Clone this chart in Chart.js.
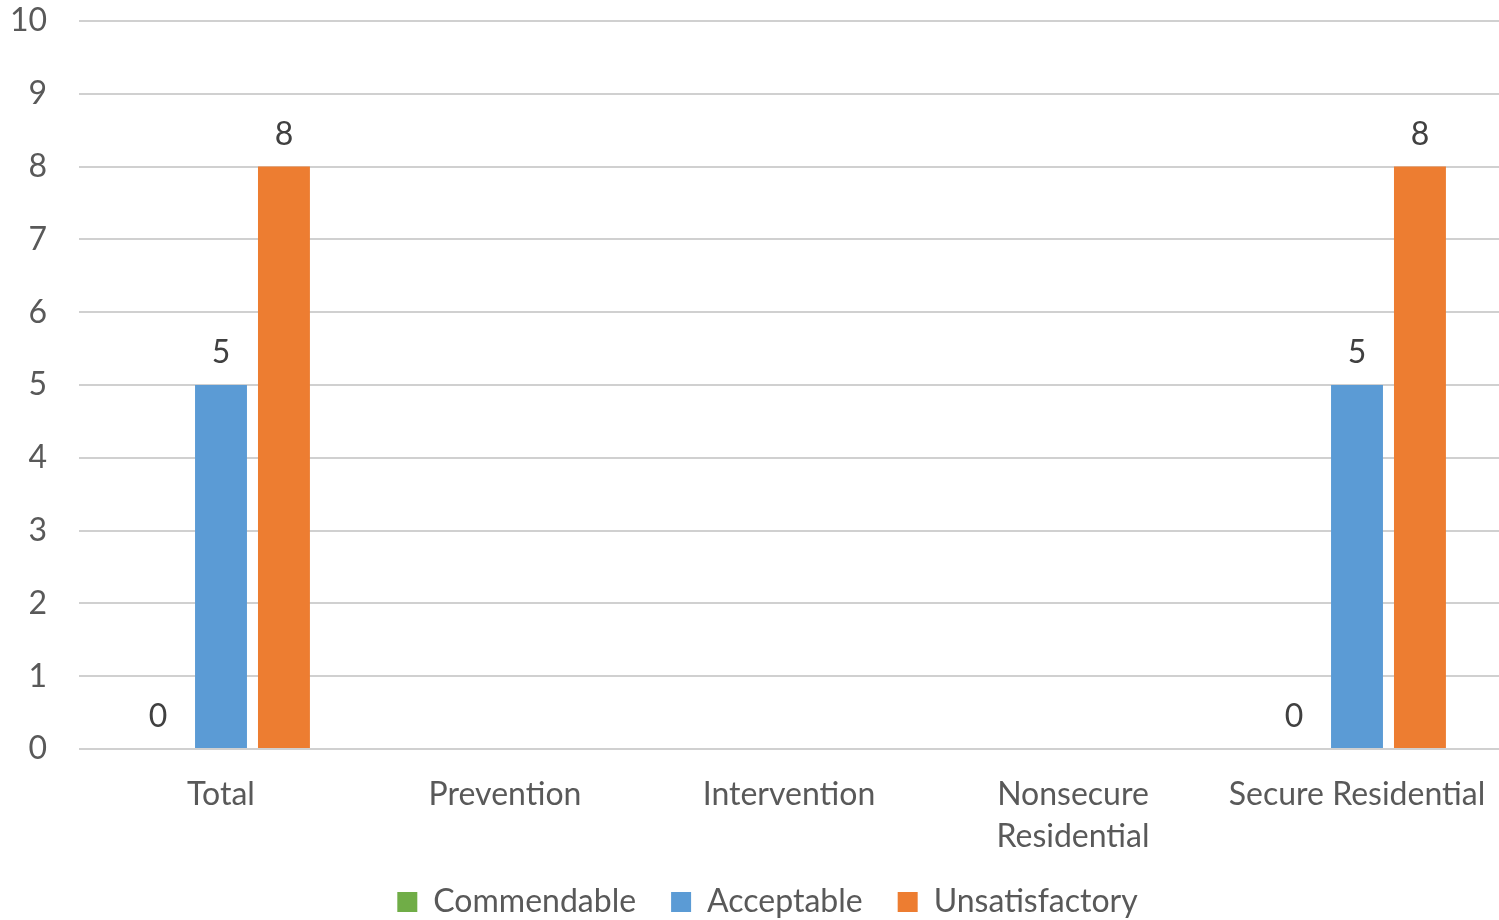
<!DOCTYPE html>
<html>
<head>
<meta charset="utf-8">
<title>Ratings by program type</title>
<script src="https://cdn.jsdelivr.net/npm/chart.js@4.4.1/dist/chart.umd.min.js"></script>
<style>
  html, body { margin: 0; padding: 0; background: #fff; overflow: hidden; }
  #wrap { width: 1499px; height: 920px; overflow: hidden; }
  #chart { display: block; }
</style>
</head>
<body>
<div id="wrap"><canvas id="chart" width="1499" height="928"></canvas></div>
<script>
/* ---- data ---- */
var categories     = ['Total', 'Prevention', 'Intervention', ['Nonsecure', 'Residential'], 'Secure Residential'];
var commendable    = [0, null, null, null, 0];
var acceptable     = [5, null, null, null, 5];
var unsatisfactory = [8, null, null, null, 8];
var yTicks         = [0, 1, 2, 3, 4, 5, 6, 7, 8, 9, 10];

var FONT = 'Lato, "Open Sans", sans-serif';
var TEXT = '#595959';

/* value labels above each bar */
var barLabels = {
  id: 'barLabels',
  afterDatasetsDraw: function(chart) {
    var ctx = chart.ctx;
    ctx.save();
    ctx.font = '32px ' + FONT;
    ctx.fillStyle = '#404040';
    ctx.textAlign = 'center';
    ctx.textBaseline = 'middle';
    chart.data.datasets.forEach(function(ds, i) {
      var meta = chart.getDatasetMeta(i);
      meta.data.forEach(function(el, j) {
        var v = ds.data[j];
        if (v === null || v === undefined) return;
        ctx.fillText(String(v), el.x, el.y - 32);
      });
    });
    ctx.restore();
  }
};

/* nudge the legend a bit right, like the original */
var legendShift = {
  id: 'legendShift',
  afterLayout: function(chart) {
    if (chart.legend) chart.legend.left += 36;
  }
};

Chart.defaults.font.family = FONT;
Chart.defaults.color = TEXT;

new Chart(document.getElementById('chart'), {
  type: 'bar',
  data: {
    labels: categories,
    datasets: [
      { label: 'Commendable',    data: commendable,    backgroundColor: '#70AD47' },
      { label: 'Acceptable',     data: acceptable,     backgroundColor: '#5B9BD5' },
      { label: 'Unsatisfactory', data: unsatisfactory, backgroundColor: '#ED7D31' }
    ]
  },
  options: {
    responsive: false,
    animation: false,
    devicePixelRatio: 1,
    categoryPercentage: 0.665,
    barPercentage: 0.825,
    layout: { padding: { top: 21, right: 0, left: 0, bottom: 0 } },
    plugins: {
      tooltip: { enabled: false },
      legend: {
        position: 'bottom',
        labels: {
          font: { size: 32 },
          color: TEXT,
          boxWidth: 20,
          boxHeight: 20,
          padding: 35
        }
      }
    },
    scales: {
      x: {
        afterFit: function(scale) {
          scale.height = 102;
          scale.paddingLeft = 0;
          scale.paddingRight = 0;
        },
        grid: { display: false, drawTicks: false },
        border: { display: false },
        ticks: { font: { size: 32, lineHeight: 1.3 }, color: TEXT, padding: 25, maxRotation: 0, autoSkip: false }
      },
      y: {
        min: 0, max: 10,
        afterFit: function(scale) {
          scale.width = 79;
          scale.paddingTop = 0;
          scale.paddingBottom = 0;
        },
        afterBuildTicks: function(scale) {
          scale.ticks = yTicks.map(function(v) { return { value: v }; });
        },
        grid: { color: '#d0d0d0', lineWidth: 2, drawTicks: false },
        border: { display: false },
        ticks: { font: { size: 32 }, color: TEXT, padding: 32 }
      }
    }
  },
  plugins: [barLabels, legendShift]
});
</script>
</body>
</html>
